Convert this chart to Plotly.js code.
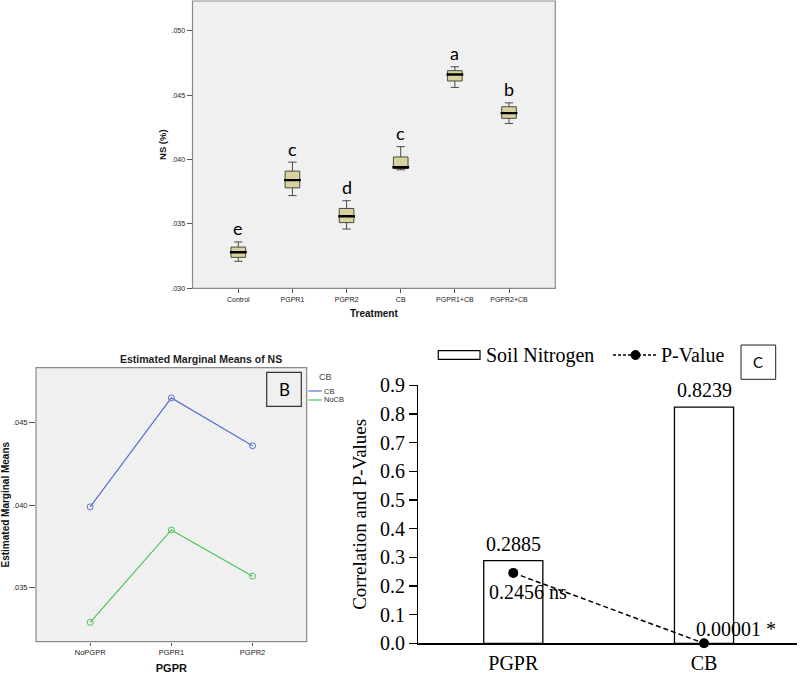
<!DOCTYPE html>
<html>
<head>
<meta charset="utf-8">
<script src="https://cdn.plot.ly/plotly-3.0.1.min.js"></script>
<style>html,body{margin:0;padding:0;background:#fff;}#chart{width:800px;height:674px;}</style>
</head>
<body>
<div id="chart"></div>
<script>
// ---- Panel A: box plot of NS (%) by treatment ----
var treatments = ['Control', 'PGPR1', 'PGPR2', 'CB', 'PGPR1+CB', 'PGPR2+CB'];
var nsLower  = [0.0321, 0.0372, 0.0346, 0.0392, 0.0456, 0.0428];
var nsQ1     = [0.0324, 0.0378, 0.0351, 0.0393, 0.0461, 0.0432];
var nsMedian = [0.0328, 0.0384, 0.0356, 0.0394, 0.0466, 0.0436];
var nsQ3     = [0.0332, 0.0391, 0.0362, 0.0402, 0.0469, 0.0441];
var nsUpper  = [0.0336, 0.0398, 0.0368, 0.0410, 0.0472, 0.0444];
var groupLetters = ['e', 'c', 'd', 'c', 'a', 'b'];
var aTickVals = [0.030, 0.035, 0.040, 0.045, 0.050];
var aTickText = ['.030', '.035', '.040', '.045', '.050'];

// ---- Panel B: estimated marginal means ----
var pgprLevels = ['NoPGPR', 'PGPR1', 'PGPR2'];
var meansCB   = [0.0399, 0.0465, 0.0436];
var meansNoCB = [0.0329, 0.0385, 0.0357];
var bTickVals = [0.035, 0.040, 0.045];
var bTickText = ['.035', '.040', '.045'];

// ---- Panel C: correlation and P-values ----
var factors = ['PGPR', 'CB'];
var soilNitrogen = [0.2885, 0.8239];
var pValues = [0.2456, 0.00001];
var pLabels = ['0.2456 ns', '0.00001 *'];
var corrLabels = ['0.2885', '0.8239'];

var sans = 'Liberation Sans, Arial, sans-serif';
var serif = 'Liberation Serif, Times New Roman, serif';
var lato = 'Lato, Carlito, sans-serif';
var W = 800, H = 674;
function px(x) { return x / W; }
function py(y) { return 1 - y / H; }

var traces = [
  {
    type: 'box', x: treatments,
    q1: nsQ1, median: nsMedian, q3: nsQ3, lowerfence: nsLower, upperfence: nsUpper,
    width: 0.27, whiskerwidth: 0.57, boxpoints: false,
    fillcolor: '#d8d29f', line: {color: '#4a4a42', width: 1},
    xaxis: 'x', yaxis: 'y', showlegend: false, hoverinfo: 'skip'
  },
  {
    type: 'scatter', mode: 'markers', x: treatments, y: nsMedian,
    marker: {symbol: 'line-ew', size: 12, line: {color: '#000', width: 2.4}},
    xaxis: 'x', yaxis: 'y', showlegend: false, hoverinfo: 'skip'
  },
  {
    type: 'scatter', mode: 'lines+markers', x: pgprLevels, y: meansCB, name: 'CB',
    line: {color: '#5b72cf', width: 1.2},
    marker: {symbol: 'circle-open', size: 6, color: '#5b72cf', line: {width: 1}},
    xaxis: 'x2', yaxis: 'y2', showlegend: false
  },
  {
    type: 'scatter', mode: 'lines+markers', x: pgprLevels, y: meansNoCB, name: 'NoCB',
    line: {color: '#4cc45a', width: 1.2},
    marker: {symbol: 'circle-open', size: 6, color: '#4cc45a', line: {width: 1}},
    xaxis: 'x2', yaxis: 'y2', showlegend: false
  },
  {
    type: 'bar', x: factors, y: soilNitrogen, name: 'Soil Nitrogen', width: 0.31,
    marker: {color: '#fff', line: {color: '#000', width: 1.3}},
    xaxis: 'x3', yaxis: 'y3', showlegend: false
  },
  {
    type: 'scatter', mode: 'lines+markers', x: factors, y: pValues, name: 'P-Value',
    line: {color: '#000', width: 1.5, dash: '5px,3px'},
    marker: {color: '#000', size: 10},
    cliponaxis: false,
    xaxis: 'x3', yaxis: 'y3', showlegend: false
  }
];

var annotations = [];
treatments.forEach(function (t, i) {
  annotations.push({xref: 'x', yref: 'y', x: t, y: nsUpper[i], text: groupLetters[i],
    showarrow: false, yanchor: 'middle', yshift: 13.5, font: {family: lato, size: 18, color: '#000'}});
});
factors.forEach(function (f, i) {
  annotations.push({xref: 'x3', yref: 'y3', x: f, y: soilNitrogen[i], text: corrLabels[i],
    showarrow: false, yanchor: 'middle', yshift: 17, font: {family: serif, size: 20, color: '#000'}});
});
annotations.push({xref: 'x3', yref: 'y3', x: factors[0], y: pValues[0], text: pLabels[0],
  showarrow: false, xanchor: 'left', yanchor: 'middle', xshift: -26, yshift: -19,
  font: {family: serif, size: 20, color: '#000'}});
annotations.push({xref: 'x3', yref: 'y3', x: factors[1], y: pValues[1], text: pLabels[1],
  showarrow: false, xanchor: 'left', yanchor: 'middle', xshift: -10, yshift: 14,
  font: {family: serif, size: 20, color: '#000'}});
// panel B title, labels and legend
annotations.push({xref: 'paper', yref: 'paper', x: px(201), y: py(359), text: 'Estimated Marginal Means of NS',
  showarrow: false, xanchor: 'center', yanchor: 'middle', font: {family: sans, size: 10.5, weight: 'bold', color: '#222'}});
annotations.push({xref: 'paper', yref: 'paper', x: px(284), y: py(389.5), text: 'B',
  showarrow: false, xanchor: 'center', yanchor: 'middle', font: {family: lato, size: 17, color: '#000'}});
annotations.push({xref: 'paper', yref: 'paper', x: px(317), y: py(377), text: 'CB',
  showarrow: false, xanchor: 'left', yanchor: 'middle', font: {family: sans, size: 9, color: '#444'}});
annotations.push({xref: 'paper', yref: 'paper', x: px(321.5), y: py(391), text: 'CB',
  showarrow: false, xanchor: 'left', yanchor: 'middle', font: {family: sans, size: 7.5, color: '#333'}});
annotations.push({xref: 'paper', yref: 'paper', x: px(321.5), y: py(400), text: 'NoCB',
  showarrow: false, xanchor: 'left', yanchor: 'middle', font: {family: sans, size: 7.5, color: '#333'}});
// panel C legend and label
annotations.push({xref: 'paper', yref: 'paper', x: px(484), y: py(355), text: 'Soil Nitrogen',
  showarrow: false, xanchor: 'left', yanchor: 'middle', font: {family: serif, size: 20, color: '#000'}});
annotations.push({xref: 'paper', yref: 'paper', x: px(659), y: py(355), text: 'P-Value',
  showarrow: false, xanchor: 'left', yanchor: 'middle', font: {family: serif, size: 20, color: '#000'}});
annotations.push({xref: 'paper', yref: 'paper', x: px(758.3), y: py(362.5), text: 'C',
  showarrow: false, xanchor: 'center', yanchor: 'middle', font: {family: lato, size: 15, color: '#000'}});

var shapes = [
  {type: 'rect', xref: 'x domain', yref: 'y domain', x0: 0, x1: 1, y0: 0, y1: 1,
    fillcolor: '#f0f0f0', line: {color: '#8a8a8a', width: 1.2}, layer: 'below'},
  {type: 'rect', xref: 'x2 domain', yref: 'y2 domain', x0: 0, x1: 1, y0: 0, y1: 1,
    fillcolor: '#f0f0f0', line: {color: '#8a8a8a', width: 1.2}, layer: 'below'},
  // B label box
  {type: 'rect', xref: 'paper', yref: 'paper', x0: px(266.7), x1: px(301.3), y0: py(406.3), y1: py(372.3),
    fillcolor: 'rgba(0,0,0,0)', line: {color: '#333', width: 1.2}},
  // B legend samples
  {type: 'line', xref: 'paper', yref: 'paper', x0: px(308.3), x1: px(321.7), y0: py(391), y1: py(391),
    line: {color: '#5b72cf', width: 1.2}},
  {type: 'line', xref: 'paper', yref: 'paper', x0: px(308.3), x1: px(321.7), y0: py(400), y1: py(400),
    line: {color: '#4cc45a', width: 1.2}},
  // C legend
  {type: 'rect', xref: 'paper', yref: 'paper', x0: px(438.3), x1: px(480), y0: py(359.3), y1: py(350.7),
    fillcolor: '#fff', line: {color: '#000', width: 1.2}},
  {type: 'line', xref: 'paper', yref: 'paper', x0: px(613), x1: px(658), y0: py(355), y1: py(355),
    line: {color: '#000', width: 1.3, dash: '3px,2px'}},
  {type: 'circle', xref: 'paper', yref: 'paper', x0: px(631), x1: px(640), y0: py(359.5), y1: py(350.5),
    fillcolor: '#000', line: {color: '#000', width: 1}},
  {type: 'rect', xref: 'paper', yref: 'paper', x0: px(741), x1: px(775.7), y0: py(379.3), y1: py(345),
    fillcolor: '#fff', line: {color: '#222', width: 1}}
];

var layout = {
  width: W, height: H,
  margin: {l: 0, r: 0, t: 0, b: 0},
  paper_bgcolor: '#fff', plot_bgcolor: 'rgba(0,0,0,0)',
  showlegend: false,
  xaxis: {
    domain: [px(192.5), px(555.3)], anchor: 'y', type: 'category', range: [-0.846, 5.855],
    showgrid: false, zeroline: false, showline: false,
    ticks: 'outside', ticklen: 4, tickcolor: '#555', tickwidth: 1,
    tickfont: {family: sans, size: 7, color: '#222'},
    title: {text: 'Treatment', font: {family: sans, size: 10, weight: 'bold', color: '#111'}, standoff: 8}
  },
  yaxis: {
    domain: [py(288.3), py(1)], anchor: 'x', range: [0.030, 0.05231],
    tickvals: aTickVals, ticktext: aTickText,
    showgrid: false, zeroline: false, showline: false,
    ticks: 'outside', ticklen: 5, tickcolor: '#555', tickwidth: 1,
    tickfont: {family: sans, size: 7, color: '#222'},
    title: {text: 'NS (%)', font: {family: sans, size: 9.5, weight: 'bold', color: '#111'}, standoff: 3}
  },
  xaxis2: {
    domain: [px(36), px(306.7)], anchor: 'y2', type: 'category', range: [-0.667, 2.667],
    showgrid: false, zeroline: false, showline: false,
    ticks: 'outside', ticklen: 3, tickcolor: '#555', tickwidth: 1,
    tickfont: {family: sans, size: 7.5, color: '#222'},
    title: {text: 'PGPR', font: {family: sans, size: 11, weight: 'bold', color: '#111'}, standoff: 8}
  },
  yaxis2: {
    domain: [py(641.7), py(367.7)], anchor: 'x2', range: [0.03173, 0.04833],
    tickvals: bTickVals, ticktext: bTickText,
    showgrid: false, zeroline: false, showline: false,
    ticks: 'outside', ticklen: 6, tickcolor: '#555', tickwidth: 1,
    tickfont: {family: sans, size: 7.5, color: '#222'},
    title: {text: 'Estimated Marginal Means', font: {family: sans, size: 10, weight: 'bold', color: '#111'}, standoff: 4}
  },
  xaxis3: {
    domain: [px(418.3), px(796.7)], anchor: 'y3', type: 'category', range: [-0.498, 1.486],
    showgrid: false, zeroline: false, showline: true, linecolor: '#000', linewidth: 1.3,
    ticks: '', tickfont: {family: serif, size: 20, color: '#000'}, ticklabelstandoff: 1
  },
  yaxis3: {
    domain: [py(643.3), py(385.3)], anchor: 'x3', range: [0, 0.9], dtick: 0.1, tick0: 0, tickformat: '.1f',
    showgrid: false, zeroline: false, showline: true, linecolor: '#000', linewidth: 1.3,
    ticks: 'outside', ticklen: 8, tickcolor: '#000', tickwidth: 1.3,
    tickfont: {family: serif, size: 20, color: '#000'},
    title: {text: 'Correlation and P-Values', font: {family: serif, size: 19, color: '#000'}, standoff: 8}
  },
  annotations: annotations,
  shapes: shapes
};

Plotly.newPlot('chart', traces, layout, {displayModeBar: false, staticPlot: true});
</script>
</body>
</html>
